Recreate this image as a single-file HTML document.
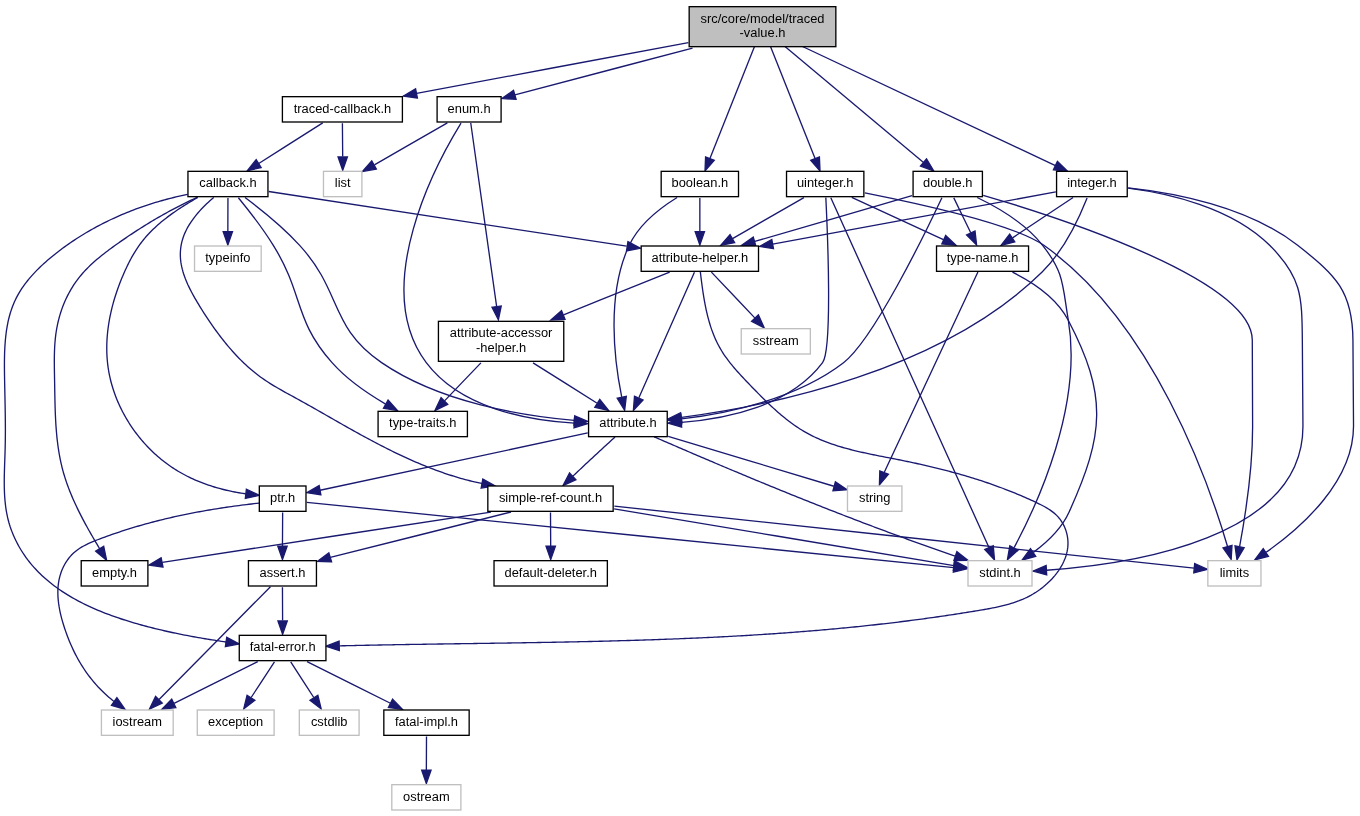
<!DOCTYPE html>
<html><head><meta charset="utf-8"><style>html,body{margin:0;padding:0;background:#fff;overflow:hidden}svg{display:block}</style></head><body>
<svg width="1360" height="816" viewBox="0 0 1360 816">
<rect x="0" y="0" width="1360" height="816" fill="#fff"/>
<path fill="none" stroke="#191970" stroke-width="1.33" d="M688.38,42.59C611.25,57 493.83,78.96 416.64,93.4"/>
<polygon fill="#191970" stroke="#191970" stroke-width="1.33" points="417.39,98 403.4,96 415.59,88.85 417.39,98"/>
<path fill="none" stroke="#191970" stroke-width="1.33" d="M802.5,46.5 L1055.44,165.57"/>
<polygon fill="#191970" stroke="#191970" stroke-width="1.33" points="1053.45,169.79 1067.5,171.25 1057.42,161.35 1053.45,169.79"/>
<path fill="none" stroke="#191970" stroke-width="1.33" d="M770.5,46.5 L815.07,158.61"/>
<polygon fill="#191970" stroke="#191970" stroke-width="1.33" points="810.74,160.33 820,171 819.41,156.89 810.74,160.33"/>
<path fill="none" stroke="#191970" stroke-width="1.33" d="M754.5,46.5 L709.93,158.61"/>
<polygon fill="#191970" stroke="#191970" stroke-width="1.33" points="705.59,156.89 705,171 714.26,160.33 705.59,156.89"/>
<path fill="none" stroke="#191970" stroke-width="1.33" d="M785,46.5 L923.53,162.44"/>
<polygon fill="#191970" stroke="#191970" stroke-width="1.33" points="920.53,166.02 933.75,171 926.52,158.86 920.53,166.02"/>
<path fill="none" stroke="#191970" stroke-width="1.33" d="M692.54,48.08C636.94,62.72 563.18,82.13 514.93,94.84"/>
<polygon fill="#191970" stroke="#191970" stroke-width="1.33" points="516.09,99.36 501.98,98.56 513.51,90.4 516.09,99.36"/>
<path fill="none" stroke="#191970" stroke-width="1.33" d="M342.4,123.21C342.48,132.4 342.6,145.2 342.7,156.57"/>
<polygon fill="#191970" stroke="#191970" stroke-width="1.33" points="347.37,156.93 342.7,170.27 338.03,156.93 347.37,156.93"/>
<path fill="none" stroke="#191970" stroke-width="1.33" d="M322.72,122.88C305.21,134.01 279.04,150.64 258.76,163.55"/>
<polygon fill="#191970" stroke="#191970" stroke-width="1.33" points="261.12,167.56 247.34,170.63 256.2,159.64 261.12,167.56"/>
<path fill="none" stroke="#191970" stroke-width="1.33" d="M197.8,197.4 L195.98,198.45 L194.17,199.51 L192.35,200.58 L190.54,201.66 L188.74,202.75 L186.94,203.85 L185.14,204.97 L183.35,206.1 L181.57,207.24 L179.8,208.39 L178.04,209.56 L176.29,210.74 L174.55,211.94 L172.82,213.15 L171.11,214.38 L169.41,215.63 L167.72,216.89 L166.05,218.17 L164.4,219.46 L162.76,220.78 L161.14,222.11 L159.55,223.46 L157.97,224.83 L156.41,226.23 L154.88,227.64 L153.37,229.07 L151.88,230.52 L150.42,232 L148.98,233.5 L147.57,235.02 L146.19,236.56 L144.84,238.13 L143.51,239.72 L142.22,241.34 L140.96,242.98 L139.72,244.64 L138.52,246.33 L137.36,248.05 L136.22,249.78 L135.11,251.54 L134.02,253.32 L132.96,255.12 L131.93,256.94 L130.92,258.77 L129.94,260.63 L128.98,262.49 L128.04,264.37 L127.12,266.26 L126.21,268.17 L125.33,270.09 L124.46,272.01 L123.61,273.95 L122.78,275.89 L121.96,277.84 L121.16,279.8 L120.38,281.77 L119.61,283.75 L118.87,285.73 L118.14,287.72 L117.43,289.71 L116.74,291.72 L116.07,293.72 L115.42,295.74 L114.79,297.76 L114.18,299.78 L113.59,301.81 L113.02,303.85 L112.48,305.89 L111.96,307.93 L111.46,309.98 L110.98,312.04 L110.53,314.09 L110.1,316.15 L109.69,318.21 L109.31,320.28 L108.96,322.35 L108.63,324.42 L108.32,326.49 L108.04,328.56 L107.79,330.64 L107.57,332.72 L107.37,334.79 L107.2,336.87 L107.05,338.95 L106.94,341.03 L106.85,343.11 L106.8,345.19 L106.77,347.27 L106.77,349.35 L106.8,351.42 L106.86,353.5 L106.96,355.57 L107.08,357.64 L107.24,359.71 L107.43,361.78 L107.65,363.85 L107.9,365.91 L108.19,367.97 L108.51,370.02 L108.86,372.07 L109.25,374.12 L109.67,376.16 L110.12,378.2 L110.61,380.24 L111.12,382.26 L111.67,384.28 L112.26,386.3 L112.87,388.3 L113.52,390.3 L114.19,392.3 L114.9,394.28 L115.63,396.25 L116.4,398.22 L117.19,400.18 L118.02,402.12 L118.87,404.06 L119.75,405.98 L120.66,407.89 L121.6,409.79 L122.56,411.68 L123.56,413.56 L124.57,415.42 L125.62,417.27 L126.69,419.11 L127.79,420.93 L128.91,422.74 L130.06,424.53 L131.23,426.3 L132.43,428.06 L133.65,429.8 L134.9,431.53 L136.17,433.24 L137.46,434.93 L138.77,436.6 L140.11,438.25 L141.47,439.89 L142.85,441.5 L144.26,443.1 L145.68,444.67 L147.13,446.22 L148.59,447.76 L150.08,449.27 L151.59,450.75 L153.11,452.22 L154.66,453.66 L156.22,455.08 L157.81,456.48 L159.41,457.85 L161.03,459.19 L162.67,460.51 L164.32,461.81 L165.99,463.08 L167.68,464.32 L169.39,465.54 L171.11,466.72 L172.84,467.89 L174.59,469.02 L176.36,470.13 L178.14,471.21 L179.94,472.26 L181.75,473.29 L183.57,474.29 L185.41,475.27 L187.26,476.22 L189.12,477.15 L191,478.05 L192.89,478.93 L194.79,479.78 L196.7,480.61 L198.62,481.41 L200.55,482.19 L202.5,482.95 L204.45,483.68 L206.41,484.39 L208.38,485.08 L210.37,485.74 L212.36,486.38 L214.35,487 L216.36,487.59 L218.38,488.17 L220.4,488.72 L222.43,489.25 L224.46,489.76 L226.51,490.25 L228.56,490.71 L230.61,491.16 L232.67,491.59 L234.74,491.99 L236.81,492.38 L238.88,492.74 L240.96,493.09 L243.04,493.42 L245.13,493.72 L245.85,493.81"/>
<polygon fill="#191970" stroke="#191970" stroke-width="1.33" points="245.33,498.44 259.1,495.3 246.37,489.17 245.33,498.44"/>
<path fill="none" stroke="#191970" stroke-width="1.33" d="M187.5,194.4 L185.19,194.88 L182.89,195.38 L180.58,195.89 L178.29,196.41 L175.99,196.95 L173.7,197.5 L171.41,198.07 L169.13,198.65 L166.85,199.25 L164.58,199.87 L162.31,200.49 L160.04,201.14 L157.78,201.8 L155.52,202.47 L153.27,203.16 L151.02,203.86 L148.78,204.58 L146.55,205.32 L144.31,206.07 L142.09,206.84 L139.87,207.62 L137.65,208.42 L135.44,209.23 L133.24,210.06 L131.04,210.91 L128.85,211.77 L126.67,212.65 L124.49,213.54 L122.32,214.46 L120.15,215.38 L117.99,216.33 L115.84,217.29 L113.69,218.27 L111.55,219.26 L109.42,220.27 L107.3,221.3 L105.18,222.34 L103.07,223.4 L100.97,224.48 L98.87,225.58 L96.79,226.69 L94.71,227.82 L92.64,228.97 L90.57,230.13 L88.52,231.32 L86.47,232.52 L84.43,233.73 L82.4,234.97 L80.38,236.22 L78.37,237.49 L76.37,238.78 L74.37,240.09 L72.39,241.41 L70.41,242.75 L68.45,244.11 L66.49,245.49 L64.54,246.89 L62.6,248.3 L60.67,249.74 L58.76,251.19 L56.85,252.66 L54.95,254.15 L53.07,255.66 L51.2,257.19 L49.35,258.74 L47.51,260.3 L45.7,261.89 L43.91,263.5 L42.14,265.13 L40.39,266.77 L38.67,268.44 L36.98,270.13 L35.33,271.84 L33.7,273.58 L32.1,275.33 L30.54,277.11 L29.02,278.9 L27.54,280.72 L26.09,282.57 L24.69,284.43 L23.33,286.32 L22.02,288.23 L20.76,290.17 L19.54,292.13 L18.37,294.11 L17.26,296.12 L16.2,298.15 L15.19,300.21 L14.24,302.29 L13.35,304.39 L12.51,306.52 L11.72,308.67 L10.99,310.84 L10.3,313.03 L9.66,315.24 L9.07,317.47 L8.52,319.71 L8.02,321.98 L7.55,324.26 L7.13,326.55 L6.74,328.86 L6.39,331.18 L6.08,333.51 L5.8,335.86 L5.55,338.21 L5.33,340.57 L5.14,342.95 L4.97,345.33 L4.83,347.71 L4.72,350.11 L4.62,352.51 L4.55,354.91 L4.5,357.31 L4.46,359.72 L4.44,362.13 L4.43,364.54 L4.43,366.95 L4.45,369.36 L4.47,371.76 L4.5,374.16 L4.54,376.56 L4.58,378.95 L4.63,381.34 L4.67,383.72 L4.72,386.1 L4.77,388.47 L4.82,390.83 L4.87,393.19 L4.92,395.55 L4.97,397.9 L5.01,400.25 L5.06,402.6 L5.11,404.94 L5.15,407.28 L5.19,409.62 L5.23,411.96 L5.26,414.29 L5.29,416.63 L5.32,418.97 L5.34,421.3 L5.36,423.64 L5.37,425.97 L5.38,428.31 L5.38,430.65 L5.37,432.99 L5.36,435.34 L5.34,437.68 L5.32,440.03 L5.28,442.39 L5.24,444.75 L5.19,447.11 L5.13,449.47 L5.06,451.85 L4.99,454.22 L4.91,456.6 L4.82,458.99 L4.74,461.37 L4.65,463.76 L4.57,466.15 L4.5,468.54 L4.43,470.94 L4.37,473.33 L4.32,475.72 L4.28,478.11 L4.26,480.5 L4.26,482.88 L4.28,485.27 L4.31,487.65 L4.38,490.02 L4.46,492.39 L4.58,494.76 L4.72,497.11 L4.9,499.47 L5.11,501.81 L5.36,504.15 L5.65,506.48 L5.97,508.8 L6.34,511.11 L6.76,513.41 L7.22,515.7 L7.73,517.98 L8.29,520.24 L8.9,522.5 L9.56,524.74 L10.27,526.96 L11.04,529.17 L11.85,531.37 L12.71,533.54 L13.62,535.7 L14.57,537.84 L15.57,539.97 L16.61,542.07 L17.69,544.14 L18.82,546.2 L19.99,548.23 L21.2,550.24 L22.45,552.23 L23.73,554.18 L25.06,556.12 L26.42,558.02 L27.81,559.89 L29.25,561.74 L30.71,563.55 L32.21,565.34 L33.74,567.09 L35.3,568.82 L36.89,570.51 L38.52,572.18 L40.17,573.82 L41.85,575.42 L43.56,577.01 L45.3,578.56 L47.07,580.09 L48.86,581.59 L50.68,583.06 L52.52,584.5 L54.39,585.92 L56.28,587.32 L58.19,588.69 L60.13,590.03 L62.08,591.35 L64.06,592.64 L66.06,593.91 L68.08,595.16 L70.12,596.38 L72.18,597.58 L74.25,598.76 L76.34,599.91 L78.45,601.04 L80.58,602.15 L82.71,603.24 L84.87,604.31 L87.03,605.36 L89.21,606.38 L91.41,607.39 L93.61,608.37 L95.83,609.34 L98.05,610.28 L100.29,611.21 L102.53,612.12 L104.79,613.01 L107.05,613.88 L109.32,614.73 L111.59,615.57 L113.87,616.39 L116.16,617.19 L118.45,617.98 L120.74,618.75 L123.04,619.5 L125.34,620.24 L127.64,620.97 L129.94,621.67 L132.24,622.37 L134.55,623.05 L136.85,623.71 L139.15,624.37 L141.44,625.01 L143.74,625.63 L146.03,626.25 L148.32,626.85 L150.6,627.44 L152.88,628.01 L155.15,628.58 L157.43,629.14 L159.69,629.68 L161.96,630.21 L164.22,630.74 L166.49,631.25 L168.75,631.75 L171.01,632.25 L173.27,632.73 L175.52,633.21 L177.78,633.68 L180.04,634.14 L182.31,634.59 L184.57,635.03 L186.84,635.47 L189.1,635.89 L191.37,636.32 L193.65,636.73 L195.93,637.14 L198.21,637.54 L200.49,637.94 L202.79,638.33 L205.08,638.72 L207.38,639.1 L209.69,639.47 L212.01,639.85 L214.33,640.21 L216.66,640.58 L219,640.94 L221.35,641.3 L223.7,641.65 L226.05,641.99"/>
<polygon fill="#191970" stroke="#191970" stroke-width="1.33" points="225.39,646.61 239.25,643.9 226.72,637.37 225.39,646.61"/>
<path fill="none" stroke="#191970" stroke-width="1.33" d="M197.1,197.4 L195.09,198.32 L193.09,199.25 L191.09,200.19 L189.1,201.14 L187.12,202.1 L185.14,203.07 L183.16,204.05 L181.19,205.04 L179.23,206.04 L177.27,207.05 L175.31,208.07 L173.36,209.09 L171.42,210.13 L169.48,211.18 L167.54,212.24 L165.61,213.3 L163.68,214.38 L161.76,215.46 L159.84,216.56 L157.93,217.66 L156.02,218.77 L154.11,219.89 L152.21,221.03 L150.31,222.17 L148.41,223.32 L146.52,224.48 L144.63,225.64 L142.75,226.82 L140.87,228.01 L138.99,229.2 L137.12,230.41 L135.25,231.62 L133.38,232.85 L131.52,234.08 L129.66,235.32 L127.8,236.57 L125.94,237.83 L124.09,239.09 L122.24,240.37 L120.39,241.66 L118.55,242.95 L116.7,244.25 L114.87,245.56 L113.03,246.88 L111.2,248.22 L109.38,249.56 L107.57,250.92 L105.77,252.28 L103.98,253.67 L102.21,255.06 L100.45,256.48 L98.71,257.91 L96.99,259.35 L95.29,260.82 L93.62,262.3 L91.96,263.81 L90.34,265.33 L88.74,266.88 L87.17,268.44 L85.64,270.03 L84.13,271.65 L82.66,273.29 L81.23,274.95 L79.83,276.64 L78.47,278.36 L77.15,280.11 L75.87,281.87 L74.63,283.67 L73.42,285.48 L72.26,287.32 L71.13,289.18 L70.04,291.07 L68.99,292.97 L67.97,294.9 L66.99,296.84 L66.05,298.81 L65.15,300.79 L64.29,302.79 L63.46,304.8 L62.67,306.84 L61.92,308.89 L61.21,310.95 L60.53,313.03 L59.89,315.12 L59.29,317.22 L58.73,319.34 L58.2,321.47 L57.71,323.61 L57.25,325.76 L56.84,327.92 L56.46,330.09 L56.12,332.27 L55.81,334.45 L55.54,336.64 L55.3,338.84 L55.09,341.05 L54.91,343.26 L54.76,345.48 L54.64,347.7 L54.54,349.93 L54.46,352.16 L54.4,354.39 L54.36,356.63 L54.34,358.87 L54.33,361.12 L54.33,363.36 L54.35,365.61 L54.37,367.86 L54.4,370.11 L54.44,372.36 L54.48,374.61 L54.52,376.87 L54.56,379.12 L54.6,381.36 L54.64,383.61 L54.68,385.86 L54.71,388.1 L54.75,390.34 L54.79,392.58 L54.83,394.82 L54.87,397.06 L54.92,399.29 L54.97,401.53 L55.02,403.76 L55.08,405.98 L55.15,408.21 L55.22,410.43 L55.3,412.65 L55.39,414.87 L55.49,417.09 L55.59,419.3 L55.71,421.51 L55.84,423.72 L55.98,425.92 L56.14,428.12 L56.31,430.32 L56.49,432.51 L56.69,434.7 L56.9,436.89 L57.13,439.07 L57.38,441.25 L57.65,443.43 L57.93,445.6 L58.24,447.77 L58.56,449.93 L58.91,452.09 L59.28,454.25 L59.67,456.4 L60.08,458.55 L60.52,460.69 L60.98,462.83 L61.47,464.96 L61.98,467.09 L62.53,469.22 L63.09,471.34 L63.69,473.45 L64.32,475.56 L64.97,477.67 L65.65,479.77 L66.35,481.86 L67.08,483.95 L67.83,486.04 L68.61,488.11 L69.41,490.19 L70.23,492.26 L71.07,494.32 L71.93,496.38 L72.82,498.43 L73.72,500.47 L74.64,502.51 L75.57,504.55 L76.53,506.58 L77.5,508.6 L78.48,510.62 L79.48,512.63 L80.49,514.63 L81.52,516.63 L82.55,518.62 L83.6,520.61 L84.66,522.59 L85.73,524.57 L86.81,526.53 L87.9,528.5 L88.99,530.45 L90.1,532.4 L91.2,534.34 L92.32,536.28 L93.44,538.21 L94.56,540.13 L95.69,542.04 L96.82,543.95 L97.95,545.85 L99.08,547.75 L99.71,548.79"/>
<polygon fill="#191970" stroke="#191970" stroke-width="1.33" points="95.71,551.2 106.6,560.2 103.7,546.37 95.71,551.2"/>
<path fill="none" stroke="#191970" stroke-width="1.33" d="M238.38,197.72C248.06,209.53 262.57,228.03 273.31,245.33 304.08,294.88 293.38,319.03 332.06,362.67 347.01,379.55 367.76,393.73 385.63,404.07"/>
<polygon fill="#191970" stroke="#191970" stroke-width="1.33" points="388.03,400.05 397.44,410.6 383.51,408.23 388.03,400.05"/>
<path fill="none" stroke="#191970" stroke-width="1.33" d="M245.04,197.55C260.29,208.95 282.78,226.91 299.65,245.33 342.6,292.23 329.08,326.76 381.59,362.67 439.53,402.29 521.05,415.83 574.17,420.4"/>
<polygon fill="#191970" stroke="#191970" stroke-width="1.33" points="574.75,415.77 587.7,421.43 574.05,425.08 574.75,415.77"/>
<path fill="none" stroke="#191970" stroke-width="1.33" d="M213.75,197.5 L211.96,199.02 L210.18,200.58 L208.4,202.19 L206.63,203.85 L204.87,205.55 L203.14,207.29 L201.43,209.07 L199.75,210.89 L198.11,212.75 L196.52,214.64 L194.96,216.57 L193.46,218.54 L192.02,220.53 L190.64,222.56 L189.33,224.61 L188.09,226.69 L186.92,228.8 L185.85,230.94 L184.86,233.1 L183.96,235.28 L183.16,237.48 L182.46,239.7 L181.86,241.94 L181.35,244.18 L180.95,246.45 L180.65,248.71 L180.44,250.99 L180.34,253.27 L180.33,255.55 L180.43,257.83 L180.62,260.11 L180.91,262.39 L181.29,264.67 L181.75,266.94 L182.29,269.2 L182.91,271.47 L183.6,273.73 L184.37,275.98 L185.19,278.22 L186.08,280.46 L187.02,282.69 L188.01,284.92 L189.06,287.13 L190.14,289.34 L191.27,291.53 L192.43,293.72 L193.62,295.89 L194.84,298.05 L196.08,300.2 L197.35,302.34 L198.62,304.46 L199.91,306.57 L201.21,308.66 L202.51,310.74 L203.82,312.81 L205.14,314.86 L206.47,316.89 L207.81,318.91 L209.15,320.92 L210.51,322.92 L211.88,324.9 L213.26,326.86 L214.66,328.82 L216.06,330.76 L217.48,332.68 L218.92,334.6 L220.36,336.5 L221.82,338.38 L223.3,340.26 L224.79,342.12 L226.3,343.97 L227.82,345.8 L229.36,347.62 L230.92,349.43 L232.5,351.21 L234.09,352.98 L235.7,354.74 L237.33,356.47 L238.98,358.19 L240.65,359.88 L242.34,361.55 L244.05,363.2 L245.78,364.83 L247.53,366.43 L249.3,368.01 L251.1,369.57 L252.91,371.1 L254.75,372.6 L256.61,374.07 L258.5,375.51 L260.41,376.93 L262.34,378.31 L264.3,379.67 L266.28,381 L268.28,382.3 L270.3,383.58 L272.33,384.84 L274.38,386.08 L276.45,387.3 L278.52,388.5 L280.61,389.69 L282.7,390.87 L284.8,392.05 L286.91,393.21 L289.02,394.37 L291.13,395.52 L293.24,396.67 L295.35,397.83 L297.46,398.98 L299.56,400.14 L301.66,401.31 L303.76,402.47 L305.85,403.64 L307.94,404.82 L310.03,405.99 L312.11,407.17 L314.19,408.35 L316.27,409.54 L318.35,410.72 L320.43,411.91 L322.51,413.09 L324.58,414.28 L326.66,415.47 L328.73,416.66 L330.81,417.84 L332.89,419.03 L334.96,420.22 L337.04,421.41 L339.12,422.59 L341.2,423.77 L343.29,424.96 L345.37,426.13 L347.46,427.31 L349.55,428.49 L351.64,429.66 L353.73,430.83 L355.83,431.99 L357.93,433.15 L360.03,434.31 L362.13,435.46 L364.23,436.61 L366.34,437.75 L368.45,438.89 L370.56,440.02 L372.67,441.15 L374.79,442.27 L376.91,443.38 L379.04,444.49 L381.16,445.59 L383.29,446.68 L385.43,447.77 L387.57,448.85 L389.71,449.92 L391.85,450.98 L394,452.04 L396.15,453.08 L398.31,454.12 L400.47,455.14 L402.63,456.16 L404.8,457.17 L406.97,458.16 L409.15,459.15 L411.33,460.12 L413.51,461.09 L415.7,462.04 L417.9,462.98 L420.09,463.91 L422.3,464.83 L424.51,465.73 L426.72,466.62 L428.94,467.5 L431.16,468.36 L433.39,469.22 L435.63,470.05 L437.87,470.88 L440.11,471.69 L442.37,472.48 L444.62,473.26 L446.89,474.02 L449.16,474.77 L451.43,475.5 L453.71,476.22 L456,476.92 L458.29,477.6 L460.59,478.27 L462.9,478.92 L465.21,479.55 L467.53,480.16 L469.85,480.75 L472.19,481.33 L474.53,481.89 L476.87,482.43 L479.23,482.95 L481.59,483.45 L481.98,483.52"/>
<polygon fill="#191970" stroke="#191970" stroke-width="1.33" points="481.15,488.11 495.1,485.9 482.81,478.93 481.15,488.11"/>
<path fill="none" stroke="#191970" stroke-width="1.33" d="M268.71,191.53C348.39,203.71 526.19,230.85 626.69,246.2"/>
<polygon fill="#191970" stroke="#191970" stroke-width="1.33" points="627.92,241.67 640.4,248.29 626.52,250.89 627.92,241.67"/>
<path fill="none" stroke="#191970" stroke-width="1.33" d="M227.95,197.88C227.92,207.07 227.88,219.87 227.85,231.24"/>
<polygon fill="#191970" stroke="#191970" stroke-width="1.33" points="232.52,231.6 227.85,244.93 223.18,231.6 232.52,231.6"/>
<path fill="none" stroke="#191970" stroke-width="1.33" d="M259.1,503.1 L256.57,503.38 L254.05,503.67 L251.52,503.97 L249.01,504.27 L246.49,504.58 L243.98,504.89 L241.47,505.21 L238.97,505.54 L236.47,505.87 L233.97,506.21 L231.47,506.56 L228.98,506.91 L226.49,507.27 L224.01,507.64 L221.53,508.02 L219.05,508.4 L216.57,508.79 L214.1,509.19 L211.62,509.59 L209.16,510 L206.69,510.43 L204.23,510.85 L201.77,511.29 L199.31,511.74 L196.85,512.19 L194.4,512.66 L191.95,513.13 L189.5,513.61 L187.05,514.1 L184.61,514.6 L182.16,515.11 L179.72,515.63 L177.29,516.16 L174.85,516.69 L172.42,517.24 L169.98,517.8 L167.55,518.36 L165.12,518.94 L162.7,519.53 L160.27,520.13 L157.85,520.74 L155.42,521.36 L153,521.99 L150.59,522.63 L148.17,523.28 L145.75,523.94 L143.34,524.62 L140.92,525.3 L138.51,526 L136.1,526.71 L133.69,527.43 L131.28,528.16 L128.87,528.91 L126.46,529.67 L124.06,530.43 L121.65,531.22 L119.25,532.01 L116.84,532.82 L114.44,533.64 L112.04,534.47 L109.63,535.32 L107.23,536.18 L104.83,537.05 L102.43,537.93 L100.03,538.83 L97.63,539.75 L95.24,540.68 L92.86,541.64 L90.51,542.64 L88.19,543.69 L85.91,544.79 L83.67,545.96 L81.5,547.19 L79.39,548.51 L77.36,549.92 L75.4,551.43 L73.54,553.04 L71.78,554.76 L70.11,556.59 L68.55,558.51 L67.09,560.52 L65.73,562.61 L64.48,564.77 L63.34,566.99 L62.3,569.27 L61.38,571.59 L60.57,573.94 L59.86,576.33 L59.28,578.74 L58.79,581.17 L58.42,583.62 L58.14,586.09 L57.96,588.57 L57.87,591.07 L57.87,593.58 L57.95,596.1 L58.11,598.62 L58.35,601.15 L58.65,603.69 L59.03,606.22 L59.47,608.75 L59.96,611.28 L60.52,613.81 L61.12,616.32 L61.77,618.83 L62.47,621.33 L63.2,623.81 L63.97,626.28 L64.77,628.72 L65.6,631.15 L66.45,633.57 L67.33,635.96 L68.24,638.33 L69.18,640.68 L70.15,643 L71.15,645.31 L72.18,647.6 L73.24,649.87 L74.33,652.11 L75.45,654.33 L76.61,656.53 L77.79,658.71 L79.01,660.86 L80.26,663 L81.54,665.1 L82.86,667.19 L84.21,669.25 L85.6,671.29 L87.02,673.3 L88.47,675.29 L89.96,677.26 L91.49,679.2 L93.05,681.11 L94.65,683 L96.29,684.87 L97.96,686.71 L99.68,688.52 L101.43,690.31 L103.22,692.07 L105.04,693.8 L106.91,695.51 L108.82,697.19 L110.77,698.84 L112.76,700.46 L114.17,701.47"/>
<polygon fill="#191970" stroke="#191970" stroke-width="1.33" points="111.45,705.27 125,709.25 116.89,697.68 111.45,705.27"/>
<path fill="none" stroke="#191970" stroke-width="1.33" d="M306.77,502.32C408.29,512.55 817.99,553.87 953.77,567.56"/>
<polygon fill="#191970" stroke="#191970" stroke-width="1.33" points="954.23,562.92 967.05,568.84 953.33,572.21 954.23,562.92"/>
<path fill="none" stroke="#191970" stroke-width="1.33" d="M282.65,512.55C282.59,521.73 282.52,534.53 282.45,545.91"/>
<polygon fill="#191970" stroke="#191970" stroke-width="1.33" points="287.12,546.27 282.45,559.6 277.78,546.27 287.12,546.27"/>
<path fill="none" stroke="#191970" stroke-width="1.33" d="M270.45,586.67C246.08,611.37 189.97,668.24 159.05,699.59"/>
<polygon fill="#191970" stroke="#191970" stroke-width="1.33" points="162.19,703.04 149.47,709.16 155.59,696.44 162.19,703.04"/>
<path fill="none" stroke="#191970" stroke-width="1.33" d="M282.45,587.21C282.49,596.4 282.55,609.2 282.6,620.57"/>
<polygon fill="#191970" stroke="#191970" stroke-width="1.33" points="287.27,620.93 282.6,634.27 277.93,620.93 287.27,620.93"/>
<path fill="none" stroke="#191970" stroke-width="1.33" d="M257.72,661.55C234.78,673 200.19,690.25 174.07,703.28"/>
<polygon fill="#191970" stroke="#191970" stroke-width="1.33" points="175.83,707.61 161.81,709.29 171.73,699.24 175.83,707.61"/>
<path fill="none" stroke="#191970" stroke-width="1.33" d="M274.47,661.88C268.06,671.68 258.94,685.6 251.14,697.51"/>
<polygon fill="#191970" stroke="#191970" stroke-width="1.33" points="254.9,700.28 243.74,708.93 247.07,695.21 254.9,700.28"/>
<path fill="none" stroke="#191970" stroke-width="1.33" d="M290.73,661.88C297.06,671.68 306.06,685.6 313.76,697.51"/>
<polygon fill="#191970" stroke="#191970" stroke-width="1.33" points="317.83,695.21 321.16,708.93 310,700.28 317.83,695.21"/>
<path fill="none" stroke="#191970" stroke-width="1.33" d="M307.03,661.55C329.89,673 364.36,690.25 390.41,703.28"/>
<polygon fill="#191970" stroke="#191970" stroke-width="1.33" points="392.59,699.16 402.43,709.29 388.42,707.51 392.59,699.16"/>
<path fill="none" stroke="#191970" stroke-width="1.33" d="M426.5,736.55C426.46,745.73 426.4,758.53 426.35,769.91"/>
<polygon fill="#191970" stroke="#191970" stroke-width="1.33" points="431.02,770.27 426.35,783.6 421.68,770.27 431.02,770.27"/>
<path fill="none" stroke="#191970" stroke-width="1.33" d="M587.74,432.97C522.21,446.99 383.69,476.61 320.05,490.23"/>
<polygon fill="#191970" stroke="#191970" stroke-width="1.33" points="320.88,494.81 306.9,492.72 319.13,485.64 320.88,494.81"/>
<path fill="none" stroke="#191970" stroke-width="1.33" d="M654.1,436.8 L656.17,437.7 L658.23,438.6 L660.3,439.49 L662.36,440.39 L664.43,441.29 L666.5,442.18 L668.57,443.08 L670.63,443.97 L672.7,444.87 L674.77,445.76 L676.84,446.65 L678.91,447.55 L680.98,448.44 L683.05,449.33 L685.12,450.22 L687.19,451.11 L689.26,452 L691.33,452.89 L693.4,453.77 L695.47,454.66 L697.54,455.55 L699.62,456.43 L701.69,457.32 L703.76,458.2 L705.84,459.08 L707.91,459.96 L709.98,460.85 L712.06,461.73 L714.13,462.61 L716.21,463.49 L718.28,464.36 L720.36,465.24 L722.43,466.12 L724.51,466.99 L726.59,467.87 L728.67,468.74 L730.74,469.62 L732.82,470.49 L734.9,471.36 L736.98,472.23 L739.06,473.1 L741.14,473.97 L743.22,474.84 L745.3,475.7 L747.38,476.57 L749.46,477.44 L751.54,478.3 L753.62,479.16 L755.7,480.02 L757.79,480.89 L759.87,481.75 L761.95,482.61 L764.04,483.46 L766.12,484.32 L768.21,485.18 L770.29,486.03 L772.38,486.89 L774.46,487.74 L776.55,488.59 L778.64,489.44 L780.72,490.29 L782.81,491.14 L784.9,491.99 L786.99,492.84 L789.08,493.68 L791.17,494.53 L793.26,495.37 L795.35,496.21 L797.44,497.05 L799.53,497.89 L801.62,498.73 L803.71,499.57 L805.81,500.41 L807.9,501.24 L809.99,502.07 L812.09,502.91 L814.18,503.74 L816.28,504.57 L818.37,505.4 L820.47,506.23 L822.57,507.05 L824.66,507.88 L826.76,508.7 L828.86,509.53 L830.96,510.35 L833.06,511.17 L835.16,511.99 L837.26,512.8 L839.36,513.62 L841.46,514.44 L843.56,515.25 L845.66,516.06 L847.76,516.87 L849.87,517.68 L851.97,518.49 L854.07,519.3 L856.18,520.1 L858.28,520.91 L860.39,521.71 L862.5,522.51 L864.6,523.31 L866.71,524.11 L868.82,524.91 L870.93,525.7 L873.03,526.5 L875.14,527.29 L877.25,528.08 L879.36,528.87 L881.47,529.66 L883.59,530.44 L885.7,531.23 L887.81,532.01 L889.92,532.8 L892.04,533.58 L894.15,534.35 L896.27,535.13 L898.38,535.91 L900.5,536.68 L902.62,537.46 L904.73,538.23 L906.85,539 L908.97,539.76 L911.09,540.53 L913.21,541.3 L915.33,542.06 L917.45,542.82 L919.57,543.58 L921.69,544.34 L923.82,545.09 L925.94,545.85 L928.06,546.6 L930.19,547.35 L932.31,548.1 L934.44,548.85 L936.56,549.6 L938.69,550.34 L940.82,551.09 L942.95,551.83 L945.08,552.57 L947.2,553.3 L949.33,554.04 L951.47,554.77 L953.6,555.51 L955.38,556.11"/>
<polygon fill="#191970" stroke="#191970" stroke-width="1.33" points="953.87,560.53 968,560.4 956.88,551.69 953.87,560.53"/>
<path fill="none" stroke="#191970" stroke-width="1.33" d="M668.19,436.27C713.01,449.79 788.85,472.68 833.89,486.25"/>
<polygon fill="#191970" stroke="#191970" stroke-width="1.33" points="835.39,481.83 847.05,489.83 832.95,490.84 835.39,481.83"/>
<path fill="none" stroke="#191970" stroke-width="1.33" d="M615,437 L613.47,438.41 L611.94,439.82 L610.41,441.23 L608.88,442.64 L607.35,444.04 L605.82,445.45 L604.29,446.86 L602.76,448.26 L601.24,449.67 L599.71,451.08 L598.18,452.49 L596.65,453.9 L595.12,455.32 L593.59,456.73 L592.06,458.15 L590.53,459.58 L589,461 L587.47,462.43 L585.94,463.86 L584.41,465.29 L582.88,466.73 L581.35,468.17 L579.82,469.61 L578.29,471.05 L576.76,472.5 L575.24,473.94 L573.71,475.39 L572.69,476.34"/>
<polygon fill="#191970" stroke="#191970" stroke-width="1.33" points="569.49,472.95 563,485.5 575.9,479.74 569.49,472.95"/>
<path fill="none" stroke="#191970" stroke-width="1.33" d="M614.13,508.91C702.34,523.61 876.49,552.64 953.91,565.55"/>
<polygon fill="#191970" stroke="#191970" stroke-width="1.33" points="954.61,560.93 967.17,567.41 953.32,570.19 954.61,560.93"/>
<path fill="none" stroke="#191970" stroke-width="1.33" d="M510.99,512.05C461.26,524.53 383.54,544.04 330.34,557.39"/>
<polygon fill="#191970" stroke="#191970" stroke-width="1.33" points="331.57,561.89 317.45,561.32 328.85,552.96 331.57,561.89"/>
<path fill="none" stroke="#191970" stroke-width="1.33" d="M490.91,512.05C398.55,526.19 247.29,549.33 162.28,562.35"/>
<polygon fill="#191970" stroke="#191970" stroke-width="1.33" points="162.98,566.97 148.98,565.04 161.12,557.83 162.98,566.97"/>
<path fill="none" stroke="#191970" stroke-width="1.33" d="M550.5,512.55C550.56,521.73 550.63,534.53 550.7,545.91"/>
<polygon fill="#191970" stroke="#191970" stroke-width="1.33" points="555.37,546.27 550.7,559.6 546.03,546.27 555.37,546.27"/>
<path fill="none" stroke="#191970" stroke-width="1.33" d="M614.39,506.13C749.3,520.56 1083.47,556.29 1194.09,568.13"/>
<polygon fill="#191970" stroke="#191970" stroke-width="1.33" points="1194.69,563.49 1207.52,569.41 1193.8,572.79 1194.69,563.49"/>
<path fill="none" stroke="#191970" stroke-width="1.33" d="M700.3,271.6 L700.55,273.67 L700.8,275.75 L701.06,277.83 L701.32,279.93 L701.59,282.03 L701.87,284.13 L702.15,286.25 L702.45,288.36 L702.75,290.48 L703.07,292.6 L703.39,294.72 L703.74,296.84 L704.09,298.96 L704.46,301.08 L704.85,303.2 L705.26,305.31 L705.68,307.42 L706.12,309.53 L706.59,311.63 L707.07,313.72 L707.58,315.8 L708.11,317.88 L708.67,319.95 L709.25,322 L709.86,324.05 L710.49,326.08 L711.16,328.1 L711.85,330.11 L712.58,332.1 L713.33,334.07 L714.12,336.03 L714.95,337.97 L715.8,339.89 L716.7,341.8 L717.63,343.68 L718.6,345.54 L719.61,347.38 L720.65,349.2 L721.74,351 L722.86,352.77 L724.01,354.53 L725.2,356.26 L726.42,357.98 L727.67,359.68 L728.95,361.37 L730.26,363.04 L731.59,364.7 L732.94,366.34 L734.32,367.97 L735.71,369.59 L737.12,371.2 L738.55,372.8 L740,374.39 L741.45,375.97 L742.92,377.55 L744.4,379.12 L745.89,380.68 L747.38,382.25 L748.88,383.81 L750.38,385.36 L751.89,386.92 L753.4,388.47 L754.91,390.03 L756.42,391.57 L757.93,393.12 L759.45,394.65 L760.98,396.19 L762.51,397.71 L764.04,399.23 L765.58,400.74 L767.13,402.24 L768.68,403.72 L770.24,405.2 L771.81,406.67 L773.39,408.12 L774.97,409.56 L776.56,410.98 L778.16,412.39 L779.77,413.78 L781.39,415.16 L783.02,416.52 L784.66,417.86 L786.31,419.18 L787.98,420.48 L789.65,421.76 L791.34,423.01 L793.04,424.25 L794.75,425.46 L796.48,426.64 L798.22,427.8 L799.97,428.94 L801.74,430.05 L803.52,431.13 L805.32,432.18 L807.14,433.2 L808.97,434.19 L810.82,435.15 L812.68,436.09 L814.56,437 L816.45,437.88 L818.35,438.73 L820.27,439.57 L822.2,440.37 L824.15,441.15 L826.1,441.91 L828.07,442.65 L830.05,443.37 L832.04,444.06 L834.04,444.74 L836.05,445.39 L838.07,446.03 L840.1,446.65 L842.14,447.25 L844.18,447.84 L846.24,448.41 L848.3,448.97 L850.37,449.51 L852.44,450.04 L854.52,450.55 L856.61,451.06 L858.7,451.55 L860.8,452.03 L862.9,452.5 L865.01,452.97 L867.12,453.42 L869.23,453.87 L871.35,454.31 L873.46,454.75 L875.58,455.18 L877.7,455.6 L879.83,456.03 L881.95,456.45 L884.07,456.86 L886.2,457.28 L888.32,457.69 L890.44,458.1 L892.56,458.52 L894.68,458.93 L896.79,459.35 L898.9,459.77 L901.01,460.2 L903.12,460.63 L905.22,461.06 L907.32,461.49 L909.42,461.93 L911.52,462.38 L913.61,462.82 L915.7,463.27 L917.78,463.73 L919.86,464.19 L921.94,464.66 L924.02,465.13 L926.1,465.6 L928.17,466.08 L930.24,466.57 L932.3,467.06 L934.37,467.56 L936.43,468.06 L938.49,468.57 L940.54,469.08 L942.6,469.6 L944.65,470.12 L946.7,470.66 L948.75,471.19 L950.79,471.74 L952.83,472.29 L954.87,472.84 L956.91,473.41 L958.95,473.98 L960.98,474.56 L963.01,475.14 L965.04,475.73 L967.07,476.33 L969.09,476.94 L971.11,477.55 L973.14,478.17 L975.15,478.8 L977.17,479.44 L979.19,480.09 L981.2,480.74 L983.21,481.4 L985.22,482.07 L987.23,482.75 L989.24,483.44 L991.24,484.13 L993.25,484.84 L995.25,485.55 L997.25,486.28 L999.25,487.01 L1001.25,487.75 L1003.24,488.5 L1005.24,489.26 L1007.23,490.03 L1009.22,490.81 L1011.21,491.6 L1013.2,492.4 L1015.19,493.21 L1017.18,494.03 L1019.16,494.86 L1021.15,495.71 L1023.13,496.56 L1025.11,497.42 L1027.09,498.3 L1029.07,499.18 L1031.05,500.08 L1033.03,500.98 L1035.01,501.9 L1036.98,502.83 L1038.95,503.78 L1040.91,504.75 L1042.84,505.75 L1044.74,506.78 L1046.61,507.85 L1048.43,508.97 L1050.21,510.13 L1051.92,511.35 L1053.58,512.63 L1055.16,513.97 L1056.66,515.39 L1058.08,516.89 L1059.41,518.46 L1060.65,520.1 L1061.8,521.81 L1062.86,523.58 L1063.82,525.4 L1064.68,527.27 L1065.45,529.19 L1066.11,531.14 L1066.68,533.12 L1067.15,535.13 L1067.52,537.16 L1067.78,539.2 L1067.93,541.25 L1067.98,543.3 L1067.93,545.35 L1067.76,547.39 L1067.49,549.42 L1067.12,551.44 L1066.66,553.45 L1066.09,555.44 L1065.44,557.41 L1064.7,559.37 L1063.87,561.3 L1062.96,563.22 L1061.98,565.11 L1060.91,566.97 L1059.78,568.81 L1058.58,570.62 L1057.31,572.4 L1055.98,574.15 L1054.59,575.86 L1053.14,577.54 L1051.65,579.18 L1050.1,580.78 L1048.51,582.34 L1046.87,583.86 L1045.19,585.34 L1043.48,586.77 L1041.74,588.15 L1039.96,589.48 L1038.16,590.76 L1036.34,591.99 L1034.49,593.16 L1032.63,594.28 L1030.75,595.34 L1028.86,596.35 L1026.95,597.32 L1025.02,598.23 L1023.09,599.1 L1021.13,599.92 L1019.17,600.71 L1017.19,601.45 L1015.2,602.15 L1013.2,602.82 L1011.19,603.46 L1009.17,604.06 L1007.14,604.63 L1005.11,605.17 L1003.06,605.69 L1001.01,606.18 L998.95,606.65 L996.88,607.1 L994.81,607.53 L992.74,607.94 L990.66,608.34 L988.57,608.73 L986.49,609.11 L984.4,609.47 L982.31,609.83 L980.22,610.19 L978.12,610.54 L976.03,610.89 L973.94,611.23 L971.84,611.58 L969.75,611.92 L967.66,612.26 L965.56,612.59 L963.47,612.93 L961.37,613.26 L959.28,613.59 L957.18,613.91 L955.09,614.24 L952.99,614.56 L950.9,614.87 L948.8,615.19 L946.7,615.5 L944.6,615.81 L942.51,616.12 L940.41,616.43 L938.31,616.73 L936.21,617.03 L934.11,617.33 L932.01,617.63 L929.91,617.92 L927.81,618.21 L925.71,618.5 L923.61,618.79 L921.51,619.07 L919.41,619.35 L917.31,619.63 L915.21,619.91 L913.11,620.18 L911,620.45 L908.9,620.72 L906.8,620.99 L904.69,621.26 L902.59,621.52 L900.49,621.78 L898.38,622.04 L896.28,622.3 L894.17,622.55 L892.07,622.8 L889.96,623.05 L887.86,623.3 L885.75,623.54 L883.65,623.79 L881.54,624.03 L879.43,624.27 L877.33,624.5 L875.22,624.74 L873.11,624.97 L871,625.2 L868.9,625.43 L866.79,625.66 L864.68,625.88 L862.57,626.1 L860.46,626.32 L858.35,626.54 L856.24,626.76 L854.14,626.97 L852.03,627.18 L849.92,627.39 L847.8,627.6 L845.69,627.81 L843.58,628.01 L841.47,628.21 L839.36,628.41 L837.25,628.61 L835.14,628.81 L833.03,629 L830.91,629.19 L828.8,629.39 L826.69,629.57 L824.58,629.76 L822.46,629.95 L820.35,630.13 L818.24,630.31 L816.12,630.49 L814.01,630.67 L811.89,630.84 L809.78,631.02 L807.67,631.19 L805.55,631.36 L803.44,631.53 L801.32,631.7 L799.21,631.86 L797.09,632.03 L794.97,632.19 L792.86,632.35 L790.74,632.51 L788.63,632.66 L786.51,632.82 L784.39,632.97 L782.28,633.13 L780.16,633.28 L778.04,633.42 L775.92,633.57 L773.81,633.72 L771.69,633.86 L769.57,634 L767.45,634.14 L765.33,634.28 L763.22,634.42 L761.1,634.56 L758.98,634.69 L756.86,634.83 L754.74,634.96 L752.62,635.09 L750.5,635.22 L748.38,635.34 L746.26,635.47 L744.14,635.59 L742.02,635.72 L739.9,635.84 L737.78,635.96 L735.66,636.08 L733.54,636.19 L731.42,636.31 L729.3,636.42 L727.18,636.54 L725.06,636.65 L722.94,636.76 L720.81,636.87 L718.69,636.98 L716.57,637.08 L714.45,637.19 L712.33,637.29 L710.21,637.4 L708.08,637.5 L705.96,637.6 L703.84,637.7 L701.72,637.8 L699.59,637.89 L697.47,637.99 L695.35,638.08 L693.22,638.17 L691.1,638.27 L688.98,638.36 L686.86,638.45 L684.73,638.53 L682.61,638.62 L680.48,638.71 L678.36,638.79 L676.24,638.88 L674.11,638.96 L671.99,639.04 L669.87,639.12 L667.74,639.2 L665.62,639.28 L663.49,639.36 L661.37,639.44 L659.24,639.51 L657.12,639.59 L654.99,639.66 L652.87,639.73 L650.75,639.8 L648.62,639.88 L646.5,639.95 L644.37,640.01 L642.25,640.08 L640.12,640.15 L638,640.22 L635.87,640.28 L633.74,640.35 L631.62,640.41 L629.49,640.47 L627.37,640.53 L625.24,640.6 L623.12,640.66 L620.99,640.71 L618.87,640.77 L616.74,640.83 L614.62,640.89 L612.49,640.95 L610.36,641 L608.24,641.06 L606.11,641.11 L603.99,641.16 L601.86,641.22 L599.73,641.27 L597.61,641.32 L595.48,641.37 L593.36,641.42 L591.23,641.47 L589.1,641.52 L586.98,641.57 L584.85,641.61 L582.73,641.66 L580.6,641.71 L578.47,641.75 L576.35,641.8 L574.22,641.84 L572.09,641.89 L569.97,641.93 L567.84,641.97 L565.72,642.02 L563.59,642.06 L561.46,642.1 L559.34,642.14 L557.21,642.18 L555.09,642.22 L552.96,642.26 L550.83,642.3 L548.71,642.34 L546.58,642.38 L544.45,642.41 L542.33,642.45 L540.2,642.49 L538.08,642.53 L535.95,642.56 L533.82,642.6 L531.7,642.63 L529.57,642.67 L527.45,642.7 L525.32,642.74 L523.2,642.77 L521.07,642.81 L518.94,642.84 L516.82,642.88 L514.69,642.91 L512.57,642.94 L510.44,642.97 L508.32,643.01 L506.19,643.04 L504.06,643.07 L501.94,643.1 L499.81,643.14 L497.69,643.17 L495.56,643.2 L493.44,643.23 L491.31,643.26 L489.19,643.29 L487.06,643.32 L484.94,643.36 L482.81,643.39 L480.69,643.42 L478.56,643.45 L476.44,643.48 L474.32,643.51 L472.19,643.54 L470.07,643.57 L467.94,643.6 L465.82,643.63 L463.69,643.66 L461.57,643.69 L459.45,643.72 L457.32,643.75 L455.2,643.78 L453.08,643.82 L450.95,643.85 L448.83,643.88 L446.7,643.91 L444.58,643.94 L442.46,643.97 L440.34,644 L438.21,644.03 L436.09,644.07 L433.97,644.1 L431.84,644.13 L429.72,644.16 L427.6,644.19 L425.48,644.23 L423.36,644.26 L421.23,644.29 L419.11,644.33 L416.99,644.36 L414.87,644.39 L412.75,644.43 L410.63,644.46 L408.5,644.5 L406.38,644.53 L404.26,644.57 L402.14,644.6 L400.02,644.64 L397.9,644.68 L395.78,644.71 L393.66,644.75 L391.54,644.79 L389.42,644.82 L387.3,644.86 L385.18,644.9 L383.06,644.94 L380.94,644.98 L378.82,645.02 L376.7,645.06 L374.58,645.1 L372.47,645.14 L370.35,645.19 L368.23,645.23 L366.11,645.27 L363.99,645.31 L361.87,645.36 L359.76,645.4 L357.64,645.45 L355.52,645.49 L353.41,645.54 L351.29,645.59 L349.17,645.63 L347.06,645.68 L344.94,645.73 L342.82,645.78 L340.71,645.83 L339.23,645.87"/>
<polygon fill="#191970" stroke="#191970" stroke-width="1.33" points="339.11,641.2 325.9,646.2 339.35,650.53 339.11,641.2"/>
<path fill="none" stroke="#191970" stroke-width="1.33" d="M694.44,272.23C682.67,298.84 654.54,362.47 638.89,397.85"/>
<polygon fill="#191970" stroke="#191970" stroke-width="1.33" points="643.03,400 633.38,410.29 634.5,396.21 643.03,400"/>
<path fill="none" stroke="#191970" stroke-width="1.33" d="M669.68,272.15C641.61,283.44 598.95,300.6 563.57,314.84"/>
<polygon fill="#191970" stroke="#191970" stroke-width="1.33" points="565.02,319.29 550.91,319.95 561.53,310.64 565.02,319.29"/>
<path fill="none" stroke="#191970" stroke-width="1.33" d="M711.4,272.15C722.88,284.25 740.76,303.09 754.77,317.87"/>
<polygon fill="#191970" stroke="#191970" stroke-width="1.33" points="758.35,314.85 764.15,327.73 751.59,321.28 758.35,314.85"/>
<path fill="none" stroke="#191970" stroke-width="1.33" d="M480.91,362.85C469.82,374.45 455.88,389.03 444.54,400.88"/>
<polygon fill="#191970" stroke="#191970" stroke-width="1.33" points="447.68,404.33 434.95,410.47 441.08,397.73 447.68,404.33"/>
<path fill="none" stroke="#191970" stroke-width="1.33" d="M533.06,362.85C552.58,375.16 577.41,390.8 596.78,403.01"/>
<polygon fill="#191970" stroke="#191970" stroke-width="1.33" points="599.79,399.4 608.58,410.47 594.81,407.29 599.79,399.4"/>
<path fill="none" stroke="#191970" stroke-width="1.33" d="M1128.1,188.21C1167.88,193.28 1231.22,207.17 1269.65,245.33 1301.27,276.75 1302.01,295.59 1302.33,340 1302.33,340 1302.33,340 1302.95,425.33 1303.77,538.29 1131.58,564.29 1046.48,570.25"/>
<polygon fill="#191970" stroke="#191970" stroke-width="1.33" points="1046.71,574.91 1033.11,571.07 1046.13,565.6 1046.71,574.91"/>
<path fill="none" stroke="#191970" stroke-width="1.33" d="M1087.1,197.93C1079.85,216.16 1064.35,250.12 1042.13,272 941.13,371.45 768.79,405.89 681.7,417.32"/>
<polygon fill="#191970" stroke="#191970" stroke-width="1.33" points="681.77,422.01 667.97,419.01 680.62,412.75 681.77,422.01"/>
<path fill="none" stroke="#191970" stroke-width="1.33" d="M1128.26,187.81C1172.48,192.52 1247.41,206.11 1297.63,245.33 1336.05,275.35 1352.61,291.41 1352.94,340 1352.94,340 1352.94,340 1353.53,425.33 1353.91,481.2 1301.43,527.48 1266.05,552.32"/>
<polygon fill="#191970" stroke="#191970" stroke-width="1.33" points="1268.43,556.35 1254.76,559.89 1263.23,548.59 1268.43,556.35"/>
<path fill="none" stroke="#191970" stroke-width="1.33" d="M1055.83,191.92C991.85,203.69 856.59,228.6 772.65,244.05"/>
<polygon fill="#191970" stroke="#191970" stroke-width="1.33" points="773.48,248.64 759.52,246.45 771.8,239.47 773.48,248.64"/>
<path fill="none" stroke="#191970" stroke-width="1.33" d="M1073.13,197.55C1056.53,208.57 1031.82,225 1012.51,237.84"/>
<polygon fill="#191970" stroke="#191970" stroke-width="1.33" points="1014.76,241.95 1001.04,245.29 1009.68,234.12 1014.76,241.95"/>
<path fill="none" stroke="#191970" stroke-width="1.33" d="M1012.46,272.15C1032.17,281.89 1056.42,297.65 1068.13,320 1107.86,395.73 1104.2,434.39 1069.12,512 1061.66,528.52 1047.15,542.23 1033.35,552.35"/>
<polygon fill="#191970" stroke="#191970" stroke-width="1.33" points="1035.71,556.39 1022.05,560 1030.48,548.65 1035.71,556.39"/>
<path fill="none" stroke="#191970" stroke-width="1.33" d="M977.92,272.09C960.57,309.23 907.77,422.08 884.18,472.52"/>
<polygon fill="#191970" stroke="#191970" stroke-width="1.33" points="888.54,474.19 879.42,484.97 879.82,470.85 888.54,474.19"/>
<path fill="none" stroke="#191970" stroke-width="1.33" d="M830.81,197.76C855.58,252.53 955.22,472.93 988.85,547.33"/>
<polygon fill="#191970" stroke="#191970" stroke-width="1.33" points="993.25,545.73 994.49,559.81 984.75,549.59 993.25,545.73"/>
<path fill="none" stroke="#191970" stroke-width="1.33" d="M825.83,197.55C827.69,235.49 832.4,349.55 822.56,362.67 790.16,405.87 727.15,418.88 681.58,422.35"/>
<polygon fill="#191970" stroke="#191970" stroke-width="1.33" points="681.63,427.01 668.05,423.13 681.09,417.71 681.63,427.01"/>
<path fill="none" stroke="#191970" stroke-width="1.33" d="M864.84,192.84C919.65,203.77 1015.08,225 1043.85,245.33 1153.04,322.51 1209.1,483.65 1227.45,546.31"/>
<polygon fill="#191970" stroke="#191970" stroke-width="1.33" points="1232.01,545.28 1231.15,559.39 1223.03,547.83 1232.01,545.28"/>
<path fill="none" stroke="#191970" stroke-width="1.33" d="M803.93,197.55C784.37,208.79 755.06,225.63 732.52,238.57"/>
<polygon fill="#191970" stroke="#191970" stroke-width="1.33" points="734.68,242.71 720.8,245.29 730.04,234.61 734.68,242.71"/>
<path fill="none" stroke="#191970" stroke-width="1.33" d="M851.76,197.39C876.8,208.91 914.85,226.43 943.38,239.56"/>
<polygon fill="#191970" stroke="#191970" stroke-width="1.33" points="945.7,235.48 955.91,245.24 941.83,243.99 945.7,235.48"/>
<path fill="none" stroke="#191970" stroke-width="1.33" d="M677.09,197.47C660.43,207.75 639.07,224.19 629.2,245.33 606.05,294.88 614.41,361.04 621.69,396.91"/>
<polygon fill="#191970" stroke="#191970" stroke-width="1.33" points="626.33,396.27 624.65,410.29 617.21,398.28 626.33,396.27"/>
<path fill="none" stroke="#191970" stroke-width="1.33" d="M699.85,197.88C699.85,207.07 699.85,219.87 699.85,231.24"/>
<polygon fill="#191970" stroke="#191970" stroke-width="1.33" points="704.52,231.6 699.85,244.93 695.18,231.6 704.52,231.6"/>
<path fill="none" stroke="#191970" stroke-width="1.33" d="M977.19,197.51C998.12,207.53 1025.45,223.61 1042.63,245.33 1064.42,272.88 1062.44,285.43 1068.3,320 1082.76,405.2 1038.03,503 1014.13,547.57"/>
<polygon fill="#191970" stroke="#191970" stroke-width="1.33" points="1017.99,550.24 1007.41,559.63 1009.83,545.71 1017.99,550.24"/>
<path fill="none" stroke="#191970" stroke-width="1.33" d="M941.91,197.72C924.77,234.13 873.38,339.72 843.52,362.67 796.35,398.92 728.33,413.28 681.35,418.95"/>
<polygon fill="#191970" stroke="#191970" stroke-width="1.33" points="681.86,423.59 668.1,420.39 680.85,414.31 681.86,423.59"/>
<path fill="none" stroke="#191970" stroke-width="1.33" d="M983.22,195.27C1063.49,218.77 1252.07,280.35 1252.29,340 1252.29,340 1252.29,340 1252.61,425.33 1252.77,468.17 1245.02,517.49 1239.61,546.64"/>
<polygon fill="#191970" stroke="#191970" stroke-width="1.33" points="1244.15,547.72 1237,559.89 1235,545.91 1244.15,547.72"/>
<path fill="none" stroke="#191970" stroke-width="1.33" d="M912.03,195.65C870.92,207.63 802.65,227.52 754.78,241.47"/>
<polygon fill="#191970" stroke="#191970" stroke-width="1.33" points="755.85,246.01 741.76,245.23 753.26,237.05 755.85,246.01"/>
<path fill="none" stroke="#191970" stroke-width="1.33" d="M953.79,197.88C958.45,207.48 965.03,221.03 970.72,232.76"/>
<polygon fill="#191970" stroke="#191970" stroke-width="1.33" points="975,230.89 976.58,244.93 966.59,234.95 975,230.89"/>
<path fill="none" stroke="#191970" stroke-width="1.33" d="M447.38,122.88C427.37,134.39 397.12,151.77 374.41,164.83"/>
<polygon fill="#191970" stroke="#191970" stroke-width="1.33" points="376.33,169.11 362.42,171.57 371.75,160.97 376.33,169.11"/>
<path fill="none" stroke="#191970" stroke-width="1.33" d="M461.01,123.19C436.76,162.73 369.37,286.83 426.27,362.67 460.23,407.91 526.78,420.39 574.14,423.17"/>
<polygon fill="#191970" stroke="#191970" stroke-width="1.33" points="574.42,418.51 587.55,423.73 574.03,427.84 574.42,418.51"/>
<path fill="none" stroke="#191970" stroke-width="1.33" d="M470.75,123C475.58,157.27 489.3,254.56 496.61,306.44"/>
<polygon fill="#191970" stroke="#191970" stroke-width="1.33" points="501.26,305.95 498.39,319.79 492.01,307.19 501.26,305.95"/>
<rect x="689.17" y="6.67" width="146.67" height="40" fill="#bfbfbf" stroke="#000000" stroke-width="1.33"/>
<rect x="282.4" y="96.67" width="120" height="25.33" fill="#ffffff" stroke="#000000" stroke-width="1.33"/>
<rect x="1056.57" y="171.33" width="70.67" height="25.33" fill="#ffffff" stroke="#000000" stroke-width="1.33"/>
<rect x="786.53" y="171.33" width="77.33" height="25.33" fill="#ffffff" stroke="#000000" stroke-width="1.33"/>
<rect x="661.18" y="171.33" width="77.33" height="25.33" fill="#ffffff" stroke="#000000" stroke-width="1.33"/>
<rect x="913.08" y="171.33" width="69.33" height="25.33" fill="#ffffff" stroke="#000000" stroke-width="1.33"/>
<rect x="437.1" y="96.67" width="64" height="25.33" fill="#ffffff" stroke="#000000" stroke-width="1.33"/>
<rect x="323.48" y="171.33" width="38.43" height="25.33" fill="#ffffff" stroke="#bfbfbf" stroke-width="1.33"/>
<rect x="187.95" y="171.33" width="80" height="25.33" fill="#ffffff" stroke="#000000" stroke-width="1.33"/>
<rect x="259.32" y="486" width="46.67" height="25.33" fill="#ffffff" stroke="#000000" stroke-width="1.33"/>
<rect x="239.27" y="635.33" width="86.67" height="25.33" fill="#ffffff" stroke="#000000" stroke-width="1.33"/>
<rect x="81.22" y="560.67" width="66.67" height="25.33" fill="#ffffff" stroke="#000000" stroke-width="1.33"/>
<rect x="378.08" y="411.33" width="89.33" height="25.33" fill="#ffffff" stroke="#000000" stroke-width="1.33"/>
<rect x="588.57" y="411.33" width="78.67" height="25.33" fill="#ffffff" stroke="#000000" stroke-width="1.33"/>
<rect x="487.83" y="486" width="125.33" height="25.33" fill="#ffffff" stroke="#000000" stroke-width="1.33"/>
<rect x="641.18" y="246" width="117.33" height="25.33" fill="#ffffff" stroke="#000000" stroke-width="1.33"/>
<rect x="194.52" y="246" width="66.67" height="25.33" fill="#ffffff" stroke="#bfbfbf" stroke-width="1.33"/>
<rect x="101.42" y="710" width="71.77" height="25.33" fill="#ffffff" stroke="#bfbfbf" stroke-width="1.33"/>
<rect x="968" y="560.67" width="64" height="25.33" fill="#ffffff" stroke="#bfbfbf" stroke-width="1.33"/>
<rect x="248.45" y="560.67" width="68" height="25.33" fill="#ffffff" stroke="#000000" stroke-width="1.33"/>
<rect x="197.28" y="710" width="76.83" height="25.33" fill="#ffffff" stroke="#bfbfbf" stroke-width="1.33"/>
<rect x="299.32" y="710" width="59.77" height="25.33" fill="#ffffff" stroke="#bfbfbf" stroke-width="1.33"/>
<rect x="383.83" y="710" width="85.33" height="25.33" fill="#ffffff" stroke="#000000" stroke-width="1.33"/>
<rect x="391.8" y="784.67" width="69.1" height="25.33" fill="#ffffff" stroke="#bfbfbf" stroke-width="1.33"/>
<rect x="847.48" y="486" width="54.43" height="25.33" fill="#ffffff" stroke="#bfbfbf" stroke-width="1.33"/>
<rect x="494.03" y="560.67" width="113.33" height="25.33" fill="#ffffff" stroke="#000000" stroke-width="1.33"/>
<rect x="1207.85" y="560.67" width="53.1" height="25.33" fill="#ffffff" stroke="#bfbfbf" stroke-width="1.33"/>
<rect x="438.43" y="321.33" width="125.33" height="40" fill="#ffffff" stroke="#000000" stroke-width="1.33"/>
<rect x="741.25" y="328.67" width="69.1" height="25.33" fill="#ffffff" stroke="#bfbfbf" stroke-width="1.33"/>
<rect x="936.53" y="246" width="92.03" height="25.33" fill="#ffffff" stroke="#000000" stroke-width="1.33"/>
<g opacity="0.999"><text transform="translate(762.5,23) scale(0.968,1)" text-anchor="middle" font-family="Liberation Sans, sans-serif" font-size="13.33" fill="#000">src/core/model/traced</text><text transform="translate(762.5,37) scale(0.968,1)" text-anchor="middle" font-family="Liberation Sans, sans-serif" font-size="13.33" fill="#000">-value.h</text><text transform="translate(342.4,113) scale(0.968,1)" text-anchor="middle" font-family="Liberation Sans, sans-serif" font-size="13.33" fill="#000">traced-callback.h</text><text transform="translate(1091.9,187) scale(0.968,1)" text-anchor="middle" font-family="Liberation Sans, sans-serif" font-size="13.33" fill="#000">integer.h</text><text transform="translate(825.2,187) scale(0.968,1)" text-anchor="middle" font-family="Liberation Sans, sans-serif" font-size="13.33" fill="#000">uinteger.h</text><text transform="translate(699.85,187) scale(0.968,1)" text-anchor="middle" font-family="Liberation Sans, sans-serif" font-size="13.33" fill="#000">boolean.h</text><text transform="translate(947.75,187) scale(0.968,1)" text-anchor="middle" font-family="Liberation Sans, sans-serif" font-size="13.33" fill="#000">double.h</text><text transform="translate(469.1,113) scale(0.968,1)" text-anchor="middle" font-family="Liberation Sans, sans-serif" font-size="13.33" fill="#000">enum.h</text><text transform="translate(342.7,187) scale(0.968,1)" text-anchor="middle" font-family="Liberation Sans, sans-serif" font-size="13.33" fill="#000">list</text><text transform="translate(227.95,187) scale(0.968,1)" text-anchor="middle" font-family="Liberation Sans, sans-serif" font-size="13.33" fill="#000">callback.h</text><text transform="translate(282.65,502) scale(0.968,1)" text-anchor="middle" font-family="Liberation Sans, sans-serif" font-size="13.33" fill="#000">ptr.h</text><text transform="translate(282.6,651) scale(0.968,1)" text-anchor="middle" font-family="Liberation Sans, sans-serif" font-size="13.33" fill="#000">fatal-error.h</text><text transform="translate(114.55,577) scale(0.968,1)" text-anchor="middle" font-family="Liberation Sans, sans-serif" font-size="13.33" fill="#000">empty.h</text><text transform="translate(422.75,427) scale(0.968,1)" text-anchor="middle" font-family="Liberation Sans, sans-serif" font-size="13.33" fill="#000">type-traits.h</text><text transform="translate(627.9,427) scale(0.968,1)" text-anchor="middle" font-family="Liberation Sans, sans-serif" font-size="13.33" fill="#000">attribute.h</text><text transform="translate(550.5,502) scale(0.968,1)" text-anchor="middle" font-family="Liberation Sans, sans-serif" font-size="13.33" fill="#000">simple-ref-count.h</text><text transform="translate(699.85,262) scale(0.968,1)" text-anchor="middle" font-family="Liberation Sans, sans-serif" font-size="13.33" fill="#000">attribute-helper.h</text><text transform="translate(227.85,262) scale(0.968,1)" text-anchor="middle" font-family="Liberation Sans, sans-serif" font-size="13.33" fill="#000">typeinfo</text><text transform="translate(137.3,726) scale(0.968,1)" text-anchor="middle" font-family="Liberation Sans, sans-serif" font-size="13.33" fill="#000">iostream</text><text transform="translate(1000,577) scale(0.968,1)" text-anchor="middle" font-family="Liberation Sans, sans-serif" font-size="13.33" fill="#000">stdint.h</text><text transform="translate(282.45,577) scale(0.968,1)" text-anchor="middle" font-family="Liberation Sans, sans-serif" font-size="13.33" fill="#000">assert.h</text><text transform="translate(235.7,726) scale(0.968,1)" text-anchor="middle" font-family="Liberation Sans, sans-serif" font-size="13.33" fill="#000">exception</text><text transform="translate(329.2,726) scale(0.968,1)" text-anchor="middle" font-family="Liberation Sans, sans-serif" font-size="13.33" fill="#000">cstdlib</text><text transform="translate(426.5,726) scale(0.968,1)" text-anchor="middle" font-family="Liberation Sans, sans-serif" font-size="13.33" fill="#000">fatal-impl.h</text><text transform="translate(426.35,801) scale(0.968,1)" text-anchor="middle" font-family="Liberation Sans, sans-serif" font-size="13.33" fill="#000">ostream</text><text transform="translate(874.7,502) scale(0.968,1)" text-anchor="middle" font-family="Liberation Sans, sans-serif" font-size="13.33" fill="#000">string</text><text transform="translate(550.7,577) scale(0.968,1)" text-anchor="middle" font-family="Liberation Sans, sans-serif" font-size="13.33" fill="#000">default-deleter.h</text><text transform="translate(1234.4,577) scale(0.968,1)" text-anchor="middle" font-family="Liberation Sans, sans-serif" font-size="13.33" fill="#000">limits</text><text transform="translate(501.1,337) scale(0.968,1)" text-anchor="middle" font-family="Liberation Sans, sans-serif" font-size="13.33" fill="#000">attribute-accessor</text><text transform="translate(501.1,352) scale(0.968,1)" text-anchor="middle" font-family="Liberation Sans, sans-serif" font-size="13.33" fill="#000">-helper.h</text><text transform="translate(775.8,345) scale(0.968,1)" text-anchor="middle" font-family="Liberation Sans, sans-serif" font-size="13.33" fill="#000">sstream</text><text transform="translate(982.55,262) scale(0.968,1)" text-anchor="middle" font-family="Liberation Sans, sans-serif" font-size="13.33" fill="#000">type-name.h</text></g>
</svg>
</body></html>
